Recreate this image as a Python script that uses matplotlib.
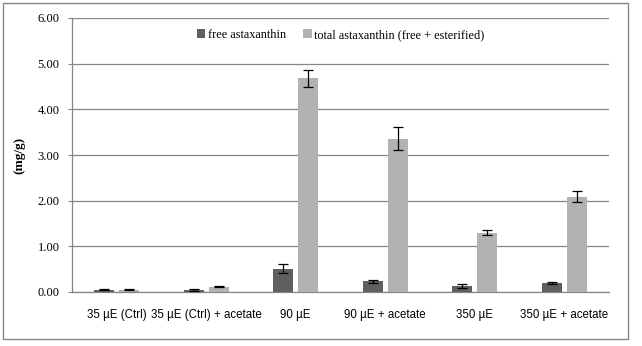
import matplotlib
matplotlib.use("Agg")
import matplotlib.pyplot as plt
import numpy as np
from matplotlib.patches import Rectangle

categories = ["35 µE (Ctrl)", "35 µE (Ctrl) + acetate", "90 µE",
              "90 µE + acetate", "350 µE", "350 µE + acetate"]
free_vals = [0.05, 0.05, 0.51, 0.23, 0.13, 0.20]
free_err = [0.01, 0.02, 0.10, 0.03, 0.04, 0.02]
total_vals = [0.05, 0.12, 4.68, 3.36, 1.30, 2.09]
total_err = [0.01, 0.01, 0.19, 0.26, 0.06, 0.13]
yticks = [0.0, 1.0, 2.0, 3.0, 4.0, 5.0, 6.0]

W, H = 642, 346
fig = plt.figure(figsize=(W / 100, H / 100), dpi=100)
fig.patch.set_facecolor("white")

# outer chart frame
fig.add_artist(Rectangle((2.5 / W, 1 - 338.5 / H), 625 / W, 336 / H,
                         transform=fig.transFigure, fill=False,
                         edgecolor="#868686", linewidth=1.0))

ax = fig.add_axes([72 / W, 1 - 292 / H, (609 - 72) / W, (292 - 18) / H])
x = np.arange(len(categories))
bw = 0.225
off = 0.14
grid_c = "#868686"

ax.bar(x - off, free_vals, bw, color="#5f5f5f", label="free astaxanthin", zorder=3)
ax.bar(x + off, total_vals, bw, color="#b2b2b2",
       label="total astaxanthin (free + esterified)", zorder=3)
ax.errorbar(x - off, free_vals, yerr=free_err, fmt="none", ecolor="black",
            elinewidth=0.9, capsize=3.3, capthick=0.9, zorder=4)
ax.errorbar(x + off, total_vals, yerr=total_err, fmt="none", ecolor="black",
            elinewidth=0.9, capsize=3.3, capthick=0.9, zorder=4)

ax.set_xlim(-0.5, len(categories) - 0.5)
ax.set_ylim(0, 6)
ax.set_yticks(yticks)
ax.set_yticklabels([f"{v:.2f}" for v in yticks], family="Liberation Serif",
                   fontsize=9)
ax.set_xticks(x)
ax.set_xticklabels(categories, family="Liberation Sans", fontsize=8.3)
ax.yaxis.grid(True, color=grid_c, linewidth=0.9, zorder=0)
ax.set_axisbelow(True)
for s in ["top", "right"]:
    ax.spines[s].set_visible(False)
for s in ["left", "bottom"]:
    ax.spines[s].set_color(grid_c)
    ax.spines[s].set_linewidth(0.9)
ax.tick_params(axis="y", length=3, color=grid_c, pad=6)
ax.tick_params(axis="x", length=0, pad=12)

ax.set_ylabel("(mg/g)", family="Liberation Serif", fontsize=9.5,
              fontweight="bold", labelpad=9)

leg = ax.legend(loc="upper center", bbox_to_anchor=(0.5, 1.0), ncol=2,
                frameon=False, prop={"family": "Liberation Serif", "size": 8.8},
                handlelength=0.7, handleheight=0.7, handletextpad=0.2,
                columnspacing=1.4)

fig.savefig("out.png", dpi=100)
